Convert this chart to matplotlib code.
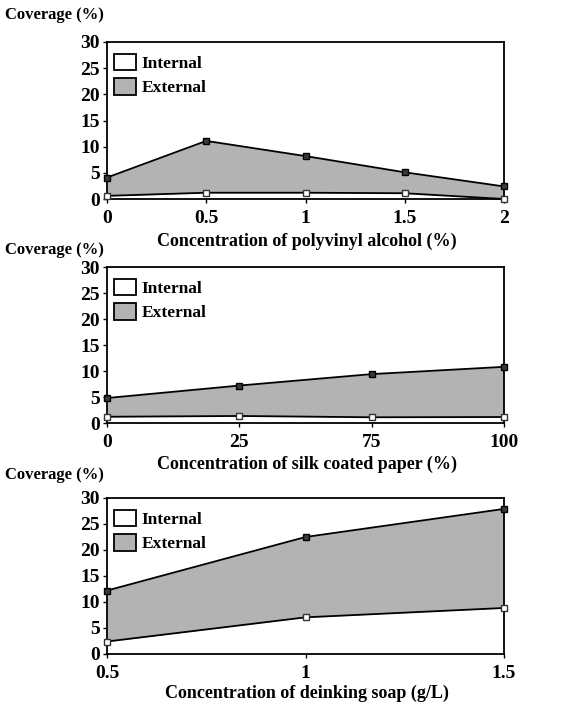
import matplotlib.pyplot as plt
import matplotlib.patches as mpatches
import numpy as np

plt.rcParams['font.family'] = ['Liberation Serif', 'DejaVu Serif']
plt.rcParams['font.weight'] = 'bold'

# panel 1: polyvinyl alcohol
pva_x = [0, 0.5, 1, 1.5, 2]
pva_ticks = ['0', '0.5', '1', '1.5', '2']
pva_internal = [0.6, 1.2, 1.2, 1.1, 0.0]
pva_external = [4.1, 11.1, 8.2, 5.1, 2.4]

# panel 2: silk coated paper (categorical axis)
silk_labels = ['0', '25', '75', '100']
silk_internal = [1.2, 1.35, 1.1, 1.15]
silk_external = [4.8, 7.2, 9.4, 10.8]

# panel 3: deinking soap
soap_x = [0.5, 1, 1.5]
soap_ticks = ['0.5', '1', '1.5']
soap_internal = [2.4, 7.05, 8.85]
soap_external = [12.2, 22.5, 27.9]

W, H = 587, 714
fig = plt.figure(figsize=(W / 100, H / 100), dpi=100)


def panel(top_px, bottom_px, x, internal, external, ticks, ticklabels, xlabel, xlabel_px, cov_px):
    ax = fig.add_axes([107 / W, 1 - bottom_px / H, (504 - 107) / W, (bottom_px - top_px) / H])
    ax.fill_between(x, internal, external, color='#b3b3b3', lw=0)
    ax.plot(x, external, color='black', lw=1.3, marker='s', ms=5,
            mfc='#3a3a3a', mec='black', clip_on=False, zorder=3)
    ax.plot(x, internal, color='black', lw=1.3, marker='s', ms=5,
            mfc='white', mec='#333333', clip_on=False, zorder=3)
    ax.set_xlim(x[0], x[-1])
    ax.set_ylim(0, 30)
    ax.set_yticks([0, 5, 10, 15, 20, 25, 30])
    ax.set_xticks(ticks)
    ax.set_xticklabels(ticklabels)
    ax.tick_params(axis='both', labelsize=14, length=3, width=1, direction='out', pad=2)
    ax.tick_params(axis='x', pad=5)
    for s in ax.spines.values():
        s.set_linewidth(1.3)
    handles = [mpatches.Patch(facecolor='white', edgecolor='black', lw=1.3, label='Internal'),
               mpatches.Patch(facecolor='#b3b3b3', edgecolor='black', lw=1.3, label='External')]
    ax.legend(handles=handles, loc='upper left', bbox_to_anchor=(0.0, 0.97),
              frameon=False, fontsize=12.5,
              handlelength=1.25, handleheight=1.1, handletextpad=0.35,
              labelspacing=0.35, borderaxespad=0.3, borderpad=0.1)
    fig.text(307 / W, 1 - xlabel_px / H, xlabel, ha='center', va='center', fontsize=13)
    fig.text(5 / W, 1 - cov_px / H, 'Coverage (%)', ha='left', va='center', fontsize=12)
    return ax


panel(42, 199, pva_x, pva_internal, pva_external, pva_x, pva_ticks,
      'Concentration of polyvinyl alcohol (%)', 241, 15)
silk_x = np.arange(len(silk_labels))
panel(267, 423, silk_x, silk_internal, silk_external, silk_x, silk_labels,
      'Concentration of silk coated paper (%)', 464, 250)
panel(498, 654, soap_x, soap_internal, soap_external, soap_x, soap_ticks,
      'Concentration of deinking soap (g/L)', 693, 475)

fig.savefig('out.png', dpi=100)
